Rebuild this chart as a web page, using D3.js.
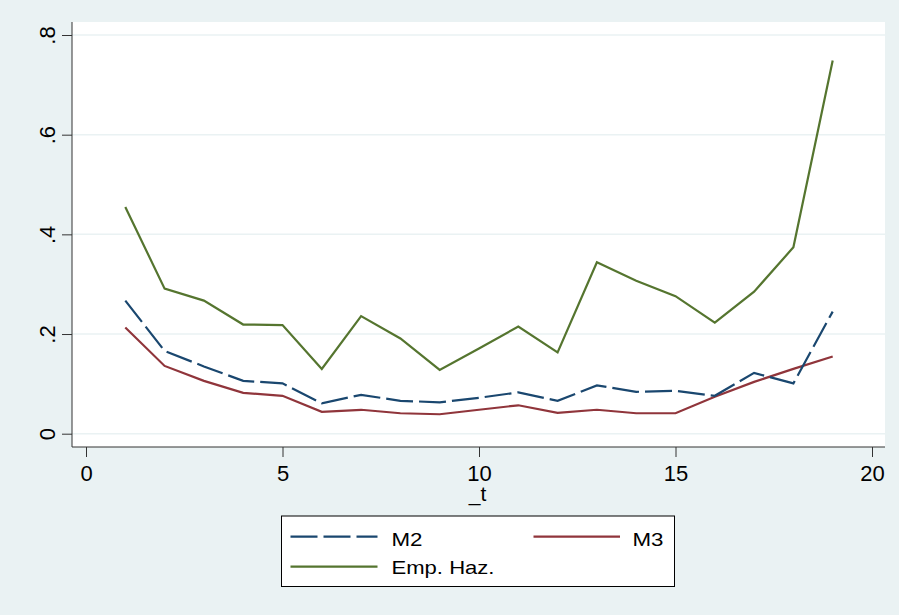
<!DOCTYPE html>
<html>
<head>
<meta charset="utf-8">
<script src="https://cdn.jsdelivr.net/npm/d3@7"></script>
<style>
  html, body { margin: 0; padding: 0; background: #EAF2F3; }
  svg { display: block; font-family: "Liberation Sans", Arial, sans-serif; }
</style>
</head>
<body>
<svg id="chart" width="899" height="615"></svg>
<script>
// ---- data ----
const tValues = [1,2,3,4,5,6,7,8,9,10,11,12,13,14,15,16,17,18,19];
const m2Values = [0.267,0.166,0.135,0.106,0.101,0.061,0.078,0.066,0.063,0.072,0.083,0.066,0.097,0.084,0.086,0.076,0.122,0.101,0.245];
const m3Values = [0.213,0.136,0.106,0.082,0.076,0.044,0.048,0.041,0.039,0.048,0.057,0.042,0.048,0.041,0.041,0.074,0.104,0.130,0.155];
const empValues = [0.455,0.291,0.267,0.219,0.218,0.130,0.236,0.191,0.128,0.171,0.215,0.163,0.344,0.307,0.276,0.223,0.285,0.374,0.749];
const xTicks = [0,5,10,15,20];
const yTicks = [0,0.2,0.4,0.6,0.8];
const yTickLabels = ["0",".2",".4",".6",".8"];
const seriesNames = ["M2","M3","Emp. Haz."];
const seriesColors = ["#1A476F","#90353B","#55752F"];

// ---- layout ----
const svg = d3.select("#chart");
const W = 899, H = 615;
const plot = {left: 72, right: 885, top: 22, bottom: 447};

svg.append("rect").attr("width", W).attr("height", H).attr("fill", "#EAF2F3");
svg.append("rect")
  .attr("x", plot.left).attr("y", plot.top)
  .attr("width", plot.right - plot.left).attr("height", plot.bottom - plot.top)
  .attr("fill", "#FFFFFF");

const x = d3.scaleLinear().domain([0, 20]).range([86, 872]);
const y = d3.scaleLinear().domain([0, 0.8]).range([433.7, 35]);

// gridlines
svg.append("g").selectAll("line").data(yTicks).join("line")
  .attr("x1", plot.left).attr("x2", plot.right)
  .attr("y1", d => y(d)).attr("y2", d => y(d))
  .attr("stroke", "#EAF2F3").attr("stroke-width", 1.5);

// y axis
const yAxis = d3.axisLeft(y).tickValues(yTicks)
  .tickFormat((d, i) => yTickLabels[i]).tickSize(10).tickPadding(0);
const gy = svg.append("g").attr("transform", `translate(${plot.left},0)`).call(yAxis);
gy.select(".domain").attr("d", `M0,${plot.top}V${plot.bottom}`).attr("stroke", "#333");
gy.selectAll(".tick line").attr("stroke", "#333");
gy.selectAll(".tick text")
  .attr("transform", "rotate(-90)")
  .attr("x", 0).attr("y", -17)
  .attr("dy", 0)
  .attr("text-anchor", "middle")
  .attr("fill", "#000")
  .style("font-size", "22px");

// x axis
const xAxis = d3.axisBottom(x).tickValues(xTicks).tickSize(10).tickPadding(0);
const gx = svg.append("g").attr("transform", `translate(0,${plot.bottom})`).call(xAxis);
gx.select(".domain").attr("d", `M${plot.left},0H${plot.right}`).attr("stroke", "#333");
gx.selectAll(".tick line").attr("stroke", "#333");
gx.selectAll(".tick text")
  .attr("y", 34).attr("dy", 0)
  .attr("fill", "#000")
  .style("font-size", "22px");

svg.append("text")
  .attr("x", (plot.left + plot.right) / 2 - 1).attr("y", 501)
  .attr("text-anchor", "middle").style("font-size", "21px").attr("fill", "#000")
  .text("_t");

// lines
const line = d3.line().x((d, i) => x(tValues[i])).y(d => y(d));
const allSeries = [m2Values, m3Values, empValues];
const dashes = ["27,6", null, null];
[2, 1, 0].forEach(k => {
  svg.append("path")
    .datum(allSeries[k])
    .attr("d", line)
    .attr("fill", "none")
    .attr("stroke", seriesColors[k])
    .attr("stroke-width", 2.2)
    .attr("stroke-linejoin", "miter")
    .attr("stroke-dasharray", dashes[k]);
});

// legend
const lg = svg.append("g");
lg.append("rect").attr("x", 281.5).attr("y", 516).attr("width", 393).attr("height", 70.5)
  .attr("fill", "#FFFFFF").attr("stroke", "#000").attr("stroke-width", 1);
const legendPos = [
  {x1: 290.5, x2: 377.5, ly: 536.7, tx: 391.5, ty: 546.3, anchor: "start", len: 31},
  {x1: 533.5, x2: 620, ly: 536.7, tx: 632.5, ty: 546.3, anchor: "start", len: 31},
  {x1: 290.5, x2: 377.5, ly: 566.7, tx: 391.5, ty: 574.3, anchor: "start", len: 103}
];
seriesNames.forEach((name, k) => {
  const p = legendPos[k];
  lg.append("line").attr("x1", p.x1).attr("x2", p.x2).attr("y1", p.ly).attr("y2", p.ly)
    .attr("stroke", seriesColors[k]).attr("stroke-width", 2.2)
    .attr("stroke-dasharray", dashes[k]);
  lg.append("text").attr("x", p.tx).attr("y", p.ty).attr("text-anchor", p.anchor)
    .attr("textLength", p.len).attr("lengthAdjust", "spacingAndGlyphs")
    .style("font-size", "18.5px").attr("fill", "#000").text(name);
});
</script>
</body>
</html>
